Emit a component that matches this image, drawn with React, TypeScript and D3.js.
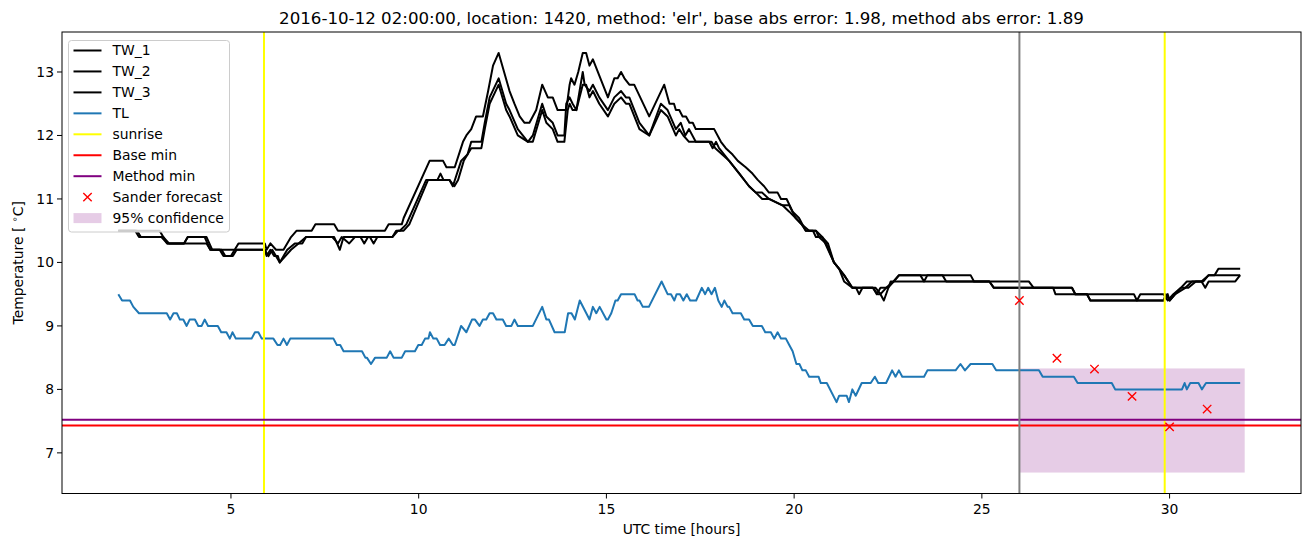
import React from "react";
import * as d3 from "d3";

type P = [number, number];

const TW_1: P[] = [[2.0,10.5],[3.1,10.5],[3.3,10.3],[3.75,10.3],[3.85,10.4],[4.35,10.4],[4.5,10.2],[5.1,10.2],[5.2,10.3],[5.9,10.3],[5.95,10.2],[6.05,10.3],[6.2,10.2],[6.4,10.2],[6.6,10.4],[6.75,10.5],[7.15,10.5],[7.25,10.6],[7.75,10.6],[7.85,10.5],[9.1,10.5],[9.2,10.6],[9.55,10.6],[9.6,10.7],[10.29,11.6],[10.65,11.6],[10.74,11.5],[10.96,11.5],[11.18,11.9],[11.27,12.0],[11.4,12.1],[11.53,12.3],[11.71,12.3],[11.85,12.7],[11.98,13.1],[12.13,13.3],[12.42,12.7],[12.55,12.5],[12.69,12.3],[12.82,12.2],[12.95,12.2],[13.13,12.4],[13.29,12.8],[13.44,12.6],[13.57,12.6],[13.7,12.4],[13.93,12.4],[14.02,12.8],[14.06,12.9],[14.15,12.8],[14.25,13.0],[14.37,13.3],[14.46,13.3],[14.55,13.1],[14.64,13.2],[15.04,12.6],[15.21,12.9],[15.3,12.9],[15.39,13.0],[15.48,12.9],[15.61,12.8],[15.74,12.8],[16.14,12.3],[16.54,12.8],[16.68,12.5],[16.8,12.5],[16.85,12.4],[16.94,12.4],[17.03,12.3],[17.12,12.3],[17.21,12.2],[17.3,12.2],[17.38,12.1],[17.87,12.1],[18.05,11.9],[18.18,11.8],[18.36,11.7],[18.5,11.6],[18.71,11.5],[18.89,11.4],[19.03,11.3],[19.2,11.2],[19.33,11.1],[19.56,11.1],[19.65,11.0],[19.8,11.0],[19.96,10.8],[20.13,10.7],[20.31,10.5],[20.58,10.5],[20.75,10.4],[20.9,10.3],[21.06,10.0],[21.2,9.9],[21.33,9.8],[21.55,9.6],[22.17,9.6],[22.3,9.5],[22.45,9.6],[22.65,9.7],[22.79,9.8],[24.7,9.8],[24.79,9.7],[26.25,9.7],[26.38,9.6],[27.4,9.6],[27.49,9.5],[29.05,9.5],[29.13,9.4],[29.22,9.5],[29.84,9.5],[29.95,9.4],[30.1,9.5],[30.3,9.6],[30.46,9.7],[30.9,9.7],[31.04,9.8],[31.2,9.8],[31.3,9.9],[31.88,9.9]];

const TW_2: P[] = [[2.0,10.5],[2.45,10.5],[2.55,10.4],[3.15,10.4],[3.3,10.3],[4.35,10.3],[4.45,10.2],[4.7,10.2],[4.8,10.1],[5.05,10.1],[5.15,10.2],[5.9,10.2],[6.0,10.1],[6.1,10.2],[6.3,10.0],[6.5,10.2],[6.7,10.3],[6.9,10.3],[7.0,10.4],[7.7,10.4],[7.85,10.3],[7.95,10.4],[8.15,10.3],[8.3,10.4],[8.7,10.4],[8.8,10.3],[8.9,10.4],[9.3,10.4],[9.45,10.5],[9.5,10.5],[9.67,10.6],[10.2,11.3],[10.5,11.3],[10.58,11.4],[10.66,11.3],[10.82,11.3],[10.91,11.2],[11.13,11.6],[11.3,11.7],[11.4,11.9],[11.67,11.9],[11.76,12.2],[11.89,12.6],[12.13,12.9],[12.33,12.5],[12.42,12.4],[12.64,12.1],[12.91,11.9],[13.04,12.0],[13.29,12.5],[13.4,12.3],[13.57,12.2],[13.7,12.0],[13.88,12.0],[13.93,12.5],[14.02,12.6],[14.1,12.5],[14.2,12.4],[14.37,13.0],[14.42,12.8],[14.55,12.7],[14.64,12.8],[14.81,12.6],[15.04,12.4],[15.21,12.6],[15.39,12.7],[15.52,12.6],[15.61,12.6],[15.88,12.2],[16.14,12.0],[16.45,12.5],[16.63,12.4],[16.85,12.1],[16.98,12.2],[17.1,12.0],[17.2,12.1],[17.38,11.9],[17.74,11.9],[17.83,11.8],[17.92,11.9],[18.0,11.8],[18.27,11.6],[18.54,11.4],[18.8,11.2],[18.98,11.1],[19.15,11.1],[19.33,11.0],[19.69,10.9],[19.87,10.9],[20.04,10.7],[20.2,10.6],[20.31,10.5],[20.5,10.5],[20.58,10.4],[20.75,10.4],[21.06,10.0],[21.2,9.9],[21.33,9.8],[21.55,9.6],[21.65,9.6],[21.73,9.5],[21.82,9.6],[22.1,9.6],[22.22,9.5],[22.3,9.5],[22.39,9.4],[22.57,9.7],[25.2,9.7],[25.32,9.6],[27.4,9.6],[27.49,9.5],[27.8,9.5],[27.89,9.4],[29.84,9.4],[29.95,9.5],[30.0,9.4],[30.15,9.5],[30.42,9.6],[30.6,9.7],[30.85,9.7],[30.95,9.6],[31.04,9.7],[31.75,9.7],[31.88,9.8]];

const TW_3: P[] = [[2.0,10.5],[2.5,10.5],[2.6,10.4],[3.2,10.4],[3.35,10.3],[3.75,10.3],[3.85,10.4],[4.3,10.4],[4.45,10.2],[4.75,10.2],[4.85,10.1],[5.0,10.1],[5.1,10.2],[5.9,10.2],[5.95,10.1],[6.05,10.2],[6.15,10.1],[6.25,10.1],[6.3,10.0],[6.45,10.1],[6.6,10.2],[6.8,10.3],[7.0,10.4],[7.75,10.4],[7.9,10.2],[8.0,10.4],[8.45,10.4],[8.55,10.3],[8.65,10.4],[9.3,10.4],[9.4,10.5],[9.6,10.5],[9.75,10.6],[10.25,11.3],[10.82,11.3],[10.95,11.2],[11.05,11.3],[11.2,11.6],[11.4,11.8],[11.67,11.8],[11.76,12.1],[11.89,12.5],[12.13,12.8],[12.33,12.4],[12.42,12.3],[12.64,12.0],[12.91,11.9],[13.04,11.9],[13.29,12.4],[13.4,12.2],[13.57,12.1],[13.7,11.9],[13.88,11.9],[13.97,12.4],[14.02,12.5],[14.1,12.4],[14.2,12.4],[14.37,12.8],[14.46,12.8],[14.55,12.6],[14.64,12.7],[14.81,12.5],[15.04,12.3],[15.21,12.5],[15.39,12.6],[15.52,12.5],[15.61,12.5],[15.88,12.1],[16.14,12.0],[16.45,12.4],[16.63,12.3],[16.85,12.0],[16.94,12.1],[17.05,12.0],[17.2,11.9],[17.8,11.9],[17.9,11.8],[18.27,11.6],[18.54,11.4],[18.8,11.2],[18.98,11.1],[19.15,11.0],[19.33,11.0],[19.69,10.9],[19.87,10.8],[20.04,10.7],[20.2,10.6],[20.4,10.5],[20.58,10.5],[20.66,10.4],[20.85,10.3],[21.06,10.0],[21.2,9.9],[21.33,9.7],[21.55,9.6],[22.1,9.6],[22.2,9.5],[22.3,9.6],[22.5,9.6],[22.65,9.7],[22.8,9.8],[23.36,9.8],[23.46,9.7],[23.55,9.8],[23.95,9.8],[24.05,9.7],[25.2,9.7],[25.32,9.6],[26.9,9.6],[26.96,9.5],[27.8,9.5],[27.89,9.4],[29.84,9.4],[29.9,9.5],[30.0,9.4],[30.15,9.5],[30.3,9.6],[30.5,9.6],[30.7,9.7],[30.85,9.7],[31.04,9.8],[31.88,9.8]];

const TL: P[] = [[2.0,9.5],[2.1,9.4],[2.31,9.4],[2.4,9.3],[2.55,9.2],[3.29,9.2],[3.38,9.1],[3.47,9.2],[3.56,9.2],[3.64,9.1],[3.73,9.1],[3.82,9.0],[3.9,9.1],[4.04,9.1],[4.13,9.0],[4.22,9.0],[4.3,9.1],[4.39,9.0],[4.65,9.0],[4.74,8.9],[4.88,8.9],[4.97,8.8],[5.04,8.9],[5.13,8.8],[5.55,8.8],[5.64,8.9],[5.73,8.9],[5.82,8.8],[6.13,8.8],[6.24,8.7],[6.31,8.7],[6.4,8.8],[6.49,8.7],[6.58,8.8],[7.73,8.8],[7.82,8.7],[7.91,8.7],[8.0,8.6],[8.49,8.6],[8.58,8.5],[8.62,8.5],[8.73,8.4],[8.84,8.5],[9.15,8.5],[9.24,8.6],[9.33,8.5],[9.55,8.5],[9.64,8.6],[9.9,8.6],[9.99,8.7],[10.08,8.7],[10.17,8.8],[10.26,8.8],[10.3,8.9],[10.39,8.8],[10.48,8.8],[10.57,8.7],[10.69,8.7],[10.8,8.8],[10.91,8.7],[10.96,8.7],[11.13,9.0],[11.27,8.9],[11.42,9.1],[11.5,9.1],[11.62,9.0],[11.71,9.1],[11.8,9.1],[11.89,9.2],[11.98,9.2],[12.07,9.1],[12.24,9.1],[12.33,9.0],[12.47,9.0],[12.55,9.1],[12.64,9.0],[13.04,9.0],[13.29,9.3],[13.4,9.1],[13.47,9.1],[13.62,8.9],[13.89,8.9],[13.98,9.2],[14.07,9.2],[14.16,9.1],[14.29,9.4],[14.55,9.1],[14.64,9.3],[14.73,9.2],[14.82,9.3],[15.0,9.1],[15.04,9.1],[15.13,9.2],[15.24,9.4],[15.3,9.4],[15.39,9.5],[15.75,9.5],[15.83,9.4],[15.88,9.4],[15.97,9.3],[16.13,9.3],[16.47,9.7],[16.63,9.5],[16.72,9.5],[16.81,9.4],[16.87,9.5],[16.96,9.5],[17.05,9.4],[17.14,9.5],[17.23,9.4],[17.39,9.4],[17.54,9.6],[17.63,9.5],[17.71,9.6],[17.8,9.5],[17.89,9.6],[17.98,9.4],[18.07,9.3],[18.14,9.4],[18.23,9.3],[18.27,9.3],[18.36,9.2],[18.58,9.2],[18.67,9.1],[18.8,9.1],[18.9,9.0],[19.14,9.0],[19.23,8.9],[19.38,8.9],[19.47,8.8],[19.56,8.9],[19.65,8.8],[19.78,8.8],[19.87,8.7],[19.96,8.6],[20.06,8.4],[20.14,8.4],[20.22,8.3],[20.31,8.3],[20.4,8.2],[20.65,8.2],[20.71,8.1],[20.87,8.1],[21.13,7.8],[21.2,7.9],[21.4,7.9],[21.46,7.8],[21.55,8.0],[21.64,7.9],[21.8,8.1],[22.04,8.1],[22.15,8.2],[22.24,8.1],[22.45,8.1],[22.61,8.3],[22.7,8.2],[22.79,8.3],[22.88,8.2],[23.46,8.2],[23.55,8.3],[24.3,8.3],[24.43,8.4],[24.55,8.3],[24.7,8.4],[25.28,8.4],[25.38,8.3],[26.52,8.3],[26.62,8.2],[27.45,8.2],[27.55,8.1],[28.46,8.1],[28.55,8.0],[30.33,8.0],[30.4,8.1],[30.46,8.0],[30.55,8.1],[30.77,8.1],[30.86,8.0],[30.97,8.1],[31.88,8.1]];

const sunriseTimes = [5.88, 29.87];
const forecastStart = 26;
const baseMin = 7.43;
const methodMin = 7.52;
const forecastHours = [26, 27, 28, 29, 30, 31];
const forecastValues = [9.4, 8.49, 8.32, 7.89, 7.41, 7.69];
const confidenceRange = { x0: 26, x1: 32, lo: 6.69, hi: 8.33 };
const xTicks = [5, 10, 15, 20, 25, 30];
const yTicks = [7, 8, 9, 10, 11, 12, 13];
const title = "2016-10-12 02:00:00, location: 1420, method: 'elr', base abs error: 1.98, method abs error: 1.89";

const W = 1311, H = 547;
const L = 62, R = 1301, T = 32, B = 493.5;
const FONT = "DejaVu Sans, sans-serif";

export default function App() {
  const x = d3.scaleLinear().domain([0.5, 33.5]).range([L, R]);
  const y = d3.scaleLinear().domain([6.36, 13.63]).range([B, T]);
  const line = d3.line<P>().x(d => x(d[0])).y(d => y(d[1]));
  const lw = 2;
  const legendItems: { label: string; kind: string; color: string }[] = [
    { label: "TW_1", kind: "line", color: "#000" },
    { label: "TW_2", kind: "line", color: "#000" },
    { label: "TW_3", kind: "line", color: "#000" },
    { label: "TL", kind: "line", color: "#1f77b4" },
    { label: "sunrise", kind: "line", color: "yellow" },
    { label: "Base min", kind: "line", color: "red" },
    { label: "Method min", kind: "line", color: "purple" },
    { label: "Sander forecast", kind: "x", color: "red" },
    { label: "95% confidence", kind: "patch", color: "#e2cce5" },
  ];
  const cross = (cx: number, cy: number, s = 4.2) => `M${cx - s},${cy - s}L${cx + s},${cy + s}M${cx - s},${cy + s}L${cx + s},${cy - s}`;
  return (
    <div style={{ position: "absolute", left: 0, top: 0 }}>
      <svg width={W} height={H} style={{ display: "block", background: "#fff" }} fontFamily={FONT}>
        <defs>
          <clipPath id="ax"><rect x={L} y={T} width={R - L} height={B - T} /></clipPath>
        </defs>
        <text x={(L + R) / 2} y={24} textAnchor="middle" fontSize={16.67} fill="#000">{title}</text>
        <g clipPath="url(#ax)">
          <rect x={x(confidenceRange.x0)} y={y(confidenceRange.hi)} width={x(confidenceRange.x1) - x(confidenceRange.x0)} height={y(confidenceRange.lo) - y(confidenceRange.hi)} fill="purple" fillOpacity={0.2} />
          {[TW_1, TW_2, TW_3].map((s, i) => (
            <path key={i} d={line(s) || ""} fill="none" stroke="#000" strokeWidth={lw} strokeLinejoin="round" />
          ))}
          <path d={line(TL) || ""} fill="none" stroke="#1f77b4" strokeWidth={lw} strokeLinejoin="round" />
          {sunriseTimes.map((t, i) => (
            <line key={i} x1={x(t)} x2={x(t)} y1={T} y2={B} stroke="yellow" strokeWidth={lw} />
          ))}
          <line x1={L} x2={R} y1={y(baseMin)} y2={y(baseMin)} stroke="red" strokeWidth={lw} />
          <line x1={L} x2={R} y1={y(methodMin)} y2={y(methodMin)} stroke="purple" strokeWidth={lw} />
          <line x1={x(forecastStart)} x2={x(forecastStart)} y1={T} y2={B} stroke="gray" strokeWidth={lw} />
          {forecastHours.map((h, i) => (
            <path key={i} d={cross(x(h), y(forecastValues[i]))} stroke="red" strokeWidth={1.4} fill="none" />
          ))}
        </g>
        <rect x={L} y={T} width={R - L} height={B - T} fill="none" stroke="#000" strokeWidth={1} />
        {xTicks.map(t => (
          <g key={t} transform={`translate(${x(t)},${B})`}>
            <line y1={0} y2={5} stroke="#000" strokeWidth={1} />
            <text y={20} textAnchor="middle" fontSize={13.9} fill="#000">{t}</text>
          </g>
        ))}
        {yTicks.map(t => (
          <g key={t} transform={`translate(${L},${y(t)})`}>
            <line x1={0} x2={-5} stroke="#000" strokeWidth={1} />
            <text x={-8} dy="0.35em" textAnchor="end" fontSize={13.9} fill="#000">{t}</text>
          </g>
        ))}
        <text x={(L + R) / 2} y={534} textAnchor="middle" fontSize={13.9} fill="#000">UTC time [hours]</text>
        <text transform={`translate(23,${(T + B) / 2}) rotate(-90)`} textAnchor="middle" fontSize={13.9} fill="#000">
          Temperature [ <tspan fontSize={9.7} dy={-5}>∘</tspan><tspan dy={5}>C]</tspan>
        </text>
        <g transform="translate(68,40)">
          <rect x={0.5} y={0.5} width={161} height={191.5} rx={3} fill="#fff" fillOpacity={0.8} stroke="#cccccc" strokeWidth={1} />
          {legendItems.map((it, i) => {
            const cy = 10.5 + i * 20.95;
            return (
              <g key={it.label} transform={`translate(0,${cy})`}>
                {it.kind === "line" && <line x1={5.5} x2={33.5} y1={0} y2={0} stroke={it.color} strokeWidth={lw} />}
                {it.kind === "x" && <path d={cross(19.5, 0)} stroke={it.color} strokeWidth={1.4} fill="none" />}
                {it.kind === "patch" && <rect x={5.5} y={-5} width={28} height={10} fill="purple" fillOpacity={0.2} />}
                <text x={44.5} dy="0.35em" fontSize={13.9} fill="#000">{it.label}</text>
              </g>
            );
          })}
        </g>
      </svg>
    </div>
  );
}
